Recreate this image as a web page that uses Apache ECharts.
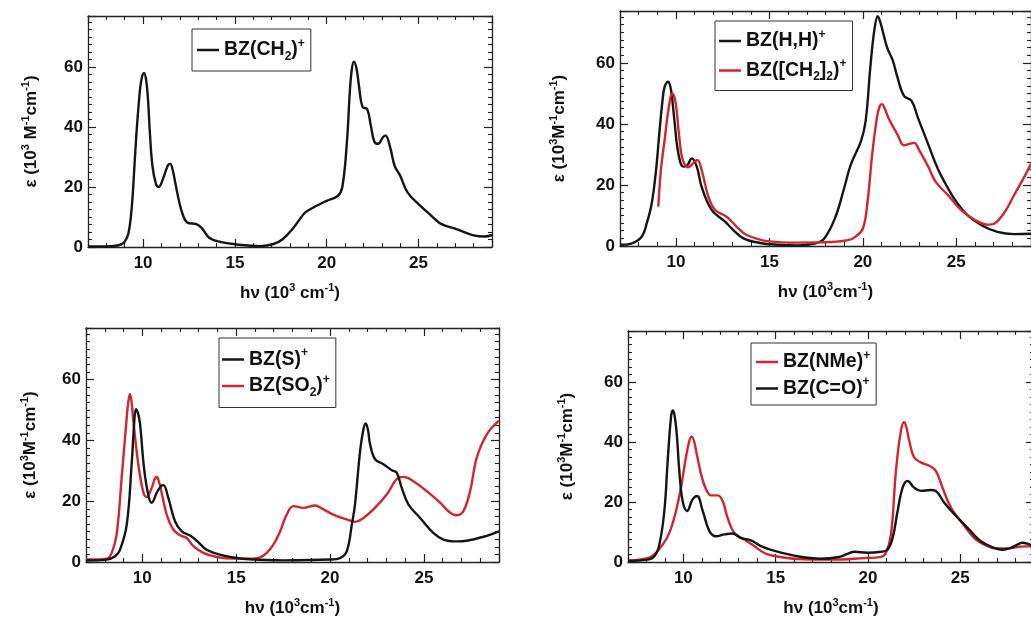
<!DOCTYPE html>
<html>
<head>
<meta charset="utf-8">
<script src="https://cdn.jsdelivr.net/npm/echarts@6/dist/echarts.min.js"></script>
<style>
html,body{margin:0;padding:0;background:#fff;}
#chart{width:1031px;height:624px;}
</style>
</head>
<body>
<div id="chart"></div>
<script>
// ---- data: [hv (10^3 cm^-1), epsilon (10^3 M^-1 cm^-1)] ----
const bzCH2 = [[7,0.2],[8,0.2],[8.5,0.4],[8.8,0.9],[9,1.8],[9.2,4.5],[9.38,13],[9.5,24],[9.63,37],[9.78,49],[9.9,55.5],[10.05,58],[10.17,55.5],[10.27,49],[10.37,38],[10.51,27],[10.7,21],[10.85,20],[11.1,23],[11.35,27.2],[11.48,27.7],[11.6,26],[11.75,21.5],[11.95,15.5],[12.15,11],[12.4,8.2],[12.9,7.6],[13.2,6.3],[13.6,3.1],[14.2,1.7],[15,0.9],[16.4,0.3],[17.1,1.0],[17.6,2.6],[18.2,6.5],[18.75,11],[19.1,12.6],[20,15.4],[20.6,17],[20.85,20],[21.1,35],[21.25,51],[21.36,59],[21.48,61.8],[21.62,59.5],[21.75,54],[21.95,46.7],[22.2,46],[22.4,40.5],[22.6,35],[22.8,34.4],[23.05,36.5],[23.2,37.2],[23.45,33.3],[23.7,27],[24,23.8],[24.4,18.2],[25,14.3],[25.7,10.4],[26.2,7.8],[27.1,5.9],[28,3.9],[28.6,3.5],[29,4.0]];

const bzHH = [[7,0.4],[7.6,0.8],[8.16,3.0],[8.43,7.4],[8.7,14],[8.93,24.9],[9.09,35.8],[9.26,46.8],[9.39,52.2],[9.57,53.8],[9.73,51.1],[9.91,41.3],[10.12,30.4],[10.39,26],[10.57,26.2],[10.84,28.7],[11.11,26],[11.37,19.4],[11.91,11.8],[12.62,8],[13.07,5.2],[13.61,2.5],[14.5,1.0],[15.5,0.4],[16.5,0.2],[17.4,0.8],[17.9,2.2],[18.5,9],[19,19],[19.35,26.6],[19.9,34.4],[20.15,41],[20.4,58.6],[20.62,71],[20.8,75.3],[20.95,73],[21.1,69.5],[21.3,65],[21.6,60.8],[21.85,55.3],[22.2,49.2],[22.6,47.6],[22.95,42],[23.5,33.3],[24,25.5],[24.55,19],[25,14.5],[25.6,10.1],[26.35,6.8],[27.2,4.6],[28.1,3.9],[29,4]];

const bzCH2CH2 = [[9.05,12.9],[9.19,24.9],[9.41,35.8],[9.59,44.6],[9.8,50],[9.98,46.8],[10.17,35.8],[10.36,28.2],[10.66,25.8],[10.9,27],[11.14,28.2],[11.37,24.9],[11.73,16.2],[12.09,11.8],[12.71,9.6],[13.25,6.3],[13.78,3.6],[15,1.5],[16.5,1.1],[18.3,1.3],[19.2,1.9],[19.6,3],[20,5.7],[20.25,14.5],[20.5,30],[20.75,42],[20.9,45.8],[21.02,46.5],[21.15,45.4],[21.4,41.5],[21.85,36.6],[22.2,33],[22.5,33.5],[22.75,33.8],[23.0,31.6],[23.5,26],[23.9,21],[24.55,16.7],[25.25,11.8],[26,8.5],[26.7,7],[27.05,7.4],[27.6,11.2],[28.1,16.7],[28.7,23.3],[29,26.9]];

const bzS = [[7,0.5],[8.1,0.8],[8.55,1.9],[8.81,4],[9.17,12.3],[9.43,32],[9.56,45],[9.66,50.3],[9.77,49],[9.88,45.4],[10.09,31],[10.32,22],[10.5,19.5],[10.77,22.8],[11.0,25],[11.12,25.3],[11.39,21],[11.74,13.4],[12.1,10.1],[12.54,8.7],[12.9,7],[13.43,4],[14.14,2.4],[14.85,1.5],[15.74,0.9],[17.5,0.55],[20,0.8],[20.53,1.3],[20.89,3.5],[21.16,12.3],[21.33,19],[21.6,36.5],[21.78,43.7],[21.9,45.6],[22.02,43.5],[22.13,38.8],[22.4,33.8],[22.84,32.2],[23.29,30.2],[23.55,29.4],[23.82,24.4],[24.18,18.9],[24.8,14.5],[25.5,9.6],[26.04,7.4],[26.75,6.8],[27.28,7],[28.17,8.3],[29,10.1]];

const bzSO2 = [[7,0.8],[8.1,1.1],[8.37,3],[8.63,9],[8.9,27.7],[9.17,47.6],[9.26,53],[9.34,55.3],[9.43,52.5],[9.52,46.5],[9.79,32],[10.06,22.8],[10.23,21.4],[10.5,24.4],[10.68,27.6],[10.77,28],[10.88,26.5],[11.03,22.8],[11.3,15.6],[11.65,10.7],[12.01,8.8],[12.36,7.9],[12.72,5.2],[13.25,3],[13.96,1.65],[14.85,1.1],[15.92,1.1],[16.27,1.5],[16.63,3],[16.98,5.7],[17.34,10.1],[17.69,15.6],[18.05,18.4],[18.58,17.8],[19.2,18.6],[19.65,17.3],[20.18,15.6],[20.89,14],[21.33,13.2],[21.78,14.5],[22.31,17.3],[23.02,22.2],[23.64,27.7],[23.91,28],[24.44,26.6],[25.15,23.3],[25.86,19.5],[26.4,16.2],[26.75,15.4],[27.1,16.7],[27.46,23.3],[27.82,34.4],[28.35,42],[29,46.5]];

const bzNMe = [[7,0.4],[8.07,1.3],[8.43,2.5],[8.88,5.8],[9.24,9.7],[9.6,17],[9.87,24.8],[10.14,34.9],[10.33,40.5],[10.45,41.8],[10.57,40.5],[10.69,37.1],[10.96,29.3],[11.23,24.2],[11.5,22.2],[11.86,22.2],[12.13,20.3],[12.4,14.7],[12.76,9.7],[13.3,7.5],[13.84,5.3],[14.39,3],[15,1.9],[16.19,1],[17.99,0.8],[19.8,1.3],[20.7,1.7],[20.97,3],[21.25,9.2],[21.52,30.4],[21.79,43.8],[21.97,46.6],[22.1,44.5],[22.24,40.4],[22.5,34.9],[22.87,33.2],[23.32,32.1],[23.68,30.4],[24.04,24.8],[24.5,18.1],[25.04,13.6],[25.76,8],[26.48,5.3],[27.02,4.5],[27.56,4.5],[28.1,5],[28.79,5.3],[29,5.4]];

const bzCO = [[7,0.4],[8.07,0.8],[8.43,1.9],[8.7,5.8],[8.97,17],[9.15,33.7],[9.33,48.3],[9.42,50.5],[9.52,49],[9.65,42],[9.78,30.4],[9.96,20.3],[10.2,17],[10.5,20.9],[10.74,22],[11.05,17],[11.41,10.3],[11.77,8.6],[12.22,9.2],[12.67,9.5],[13.12,8],[13.66,7.2],[14.2,5.3],[15,3.6],[16.19,1.9],[17.45,1.1],[18.36,1.6],[18.9,2.7],[19.26,3.4],[19.98,3.1],[20.7,3.4],[21.06,4.1],[21.34,8],[21.61,17],[21.88,24.8],[22.15,27],[22.5,24.8],[22.87,23.7],[23.41,24],[23.68,23.7],[24.13,19.8],[24.68,15.9],[25.4,11.4],[26.12,6.9],[26.84,4.7],[27.29,4.1],[27.74,4.7],[28.1,5.8],[28.37,6.4],[28.79,5.8],[29,5.6]];

const xRange = [7, 29];
const yRange = [0, 77];

// legend labels (rich text)
const legendLabels = {
  'BZ(CH2)+': '{t|BZ(CH}{sub|2}{t|)}{sup|+}',
  'BZ(H,H)+': '{t|BZ(H,H)}{sup|+}',
  'BZ([CH2]2)+': '{t|BZ([CH}{sub|2}{t|]}{sub|2}{t|)}{sup|+}',
  'BZ(S)+': '{t|BZ(S)}{sup|+}',
  'BZ(SO2)+': '{t|BZ(SO}{sub|2}{t|)}{sup|+}',
  'BZ(NMe)+': '{t|BZ(NMe)}{sup|+}',
  'BZ(C=O)+': '{t|BZ(C=O)}{sup|+}'
};
const yNames = [
  '{t|ε (10}{s|3}{t| M}{s|-1}{t|cm}{s|-1}{t|)}',
  '{t|ε (10}{s|3}{t|M}{s|-1}{t|cm}{s|-1}{t|)}',
  '{t|ε (10}{s|3}{t|M}{s|-1}{t|cm}{s|-1}{t|)}',
  '{t|ε (10}{s|3}{t|M}{s|-1}{t|cm}{s|-1}{t|)}'
];
const xNames = [
  '{t|hν (10}{s|3}{t| cm}{s|-1}{t|)}',
  '{t|hν (10}{s|3}{t|cm}{s|-1}{t|)}',
  '{t|hν (10}{s|3}{t|cm}{s|-1}{t|)}',
  '{t|hν (10}{s|3}{t|cm}{s|-1}{t|)}'
];

const FONT = '"Liberation Sans", Arial, Helvetica, sans-serif';
const BLACK = '#151515';
const RED = '#d0262c';
const FRAME = '#222';
const TXT = '#111';

const grids = [
  {left: 88, top: 16, width: 404, height: 231},
  {left: 620, top: 11, width: 411, height: 235},
  {left: 86, top: 328, width: 413, height: 234},
  {left: 628, top: 331, width: 406, height: 231}
];
const yNameGaps = [46, 50, 45, 50];
const xNameGaps = [35, 35, 35, 35];

const nameRich = {
  t: {fontSize: 17, fontWeight: 'bold', fontFamily: FONT, color: TXT, lineHeight: 22},
  s: {fontSize: 11, fontWeight: 'bold', fontFamily: FONT, color: TXT, lineHeight: 6, verticalAlign: 'top'}
};
const tickLabel = {fontSize: 17, fontWeight: 'bold', fontFamily: FONT, color: TXT};

function xAxes(i) {
  const common = {
    type: 'value', gridIndex: i, min: xRange[0], max: xRange[1],
    axisLine: {show: true, onZero: false, lineStyle: {color: FRAME, width: 1.3}},
    axisTick: {show: true, inside: true, length: 8, lineStyle: {color: FRAME, width: 1.2}},
    minorTick: {show: true, splitNumber: 5, length: 4, lineStyle: {color: FRAME, width: 1.1}},
    splitLine: {show: false}, minorSplitLine: {show: false}
  };
  return [
    Object.assign({}, common, {
      position: 'bottom',
      axisLabel: Object.assign({show: true, showMinLabel: false, showMaxLabel: false, margin: 8}, tickLabel),
      name: xNames[i], nameLocation: 'middle', nameGap: xNameGaps[i],
      nameTextStyle: {fontSize: 17, fontWeight: 'bold', fontFamily: FONT, color: TXT, rich: nameRich}
    }),
    Object.assign({}, common, {position: 'top', axisLabel: {show: false}})
  ];
}
function yAxes(i) {
  const common = {
    type: 'value', gridIndex: i, min: yRange[0], max: yRange[1],
    axisLine: {show: true, onZero: false, lineStyle: {color: FRAME, width: 1.3}},
    axisTick: {show: true, inside: true, length: 8, lineStyle: {color: FRAME, width: 1.2}},
    minorTick: {show: true, splitNumber: 8, length: 4, lineStyle: {color: FRAME, width: 1.1}},
    splitLine: {show: false}, minorSplitLine: {show: false}
  };
  return [
    Object.assign({}, common, {
      position: 'left',
      axisLabel: Object.assign({show: true, showMinLabel: true, showMaxLabel: false, margin: 5}, tickLabel),
      name: yNames[i], nameLocation: 'middle', nameRotate: 90, nameGap: yNameGaps[i],
      nameTextStyle: {fontSize: 17, fontWeight: 'bold', fontFamily: FONT, color: TXT, rich: nameRich}
    }),
    Object.assign({}, common, {position: 'right', axisLabel: {show: false}})
  ];
}

const legendRich = {
  t: {fontSize: 19.5, fontWeight: 'bold', fontFamily: FONT, color: TXT, lineHeight: 25},
  sup: {fontSize: 12, fontWeight: 'bold', fontFamily: FONT, color: TXT, lineHeight: 7, verticalAlign: 'top'},
  sub: {fontSize: 12, fontWeight: 'bold', fontFamily: FONT, color: TXT, lineHeight: 11, verticalAlign: 'bottom'}
};
function legend(names, left, top, gap, pad) {
  return {
    data: names, orient: 'vertical', left: left, top: top,
    borderColor: '#333', borderWidth: 1, padding: pad, itemGap: gap,
    icon: 'rect', itemWidth: 22, itemHeight: 2.5, selectedMode: false,
    formatter: function (n) { return legendLabels[n]; },
    textStyle: {fontSize: 19.5, fontWeight: 'bold', fontFamily: FONT, color: TXT, rich: legendRich}
  };
}

function line(name, data, color, i) {
  return {
    type: 'line', name: name, data: data, xAxisIndex: 2 * i, yAxisIndex: 2 * i,
    symbol: 'none', showSymbol: false, smooth: 0.4, color: color,
    itemStyle: {color: color},
    lineStyle: {color: color, width: 2.4}, silent: true, animation: false
  };
}

const option = {
  animation: false,
  backgroundColor: '#fff',
  grid: grids.map(g => Object.assign({containLabel: false, outerBoundsMode: 'none'}, g)),
  xAxis: [].concat(xAxes(0), xAxes(1), xAxes(2), xAxes(3)),
  yAxis: [].concat(yAxes(0), yAxes(1), yAxes(2), yAxes(3)),
  legend: [
    legend(['BZ(CH2)+'], 192, 29, 7, [8.5, 6, 8.5, 5]),
    legend(['BZ(H,H)+', 'BZ([CH2]2)+'], 715, 21, 7, [7.5, 6, 7.5, 4]),
    legend(['BZ(S)+', 'BZ(SO2)+'], 219, 338, 4, [9, 6, 9, 3]),
    legend(['BZ(NMe)+', 'BZ(C=O)+'], 751, 343, 4, [6.5, 6, 6.5, 5])
  ],
  series: [
    line('BZ(CH2)+', bzCH2, BLACK, 0),
    line('BZ(H,H)+', bzHH, BLACK, 1),
    line('BZ([CH2]2)+', bzCH2CH2, RED, 1),
    line('BZ(SO2)+', bzSO2, RED, 2),
    line('BZ(S)+', bzS, BLACK, 2),
    line('BZ(NMe)+', bzNMe, RED, 3),
    line('BZ(C=O)+', bzCO, BLACK, 3)
  ]
};

const chart = echarts.init(document.getElementById('chart'), null, {renderer: 'canvas'});
chart.setOption(option);
</script>
</body>
</html>
